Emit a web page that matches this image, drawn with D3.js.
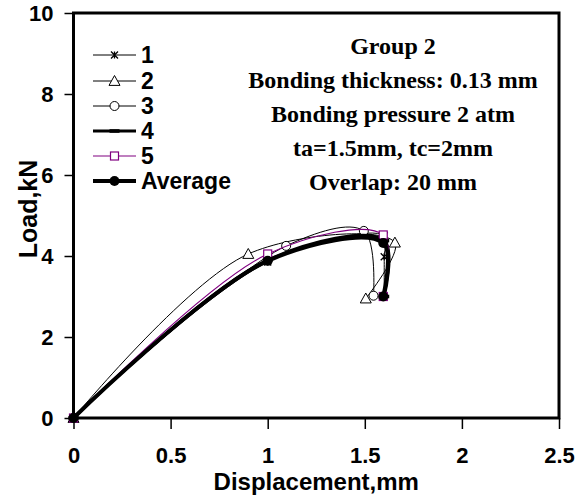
<!DOCTYPE html>
<html>
<head>
<meta charset="utf-8">
<script src="https://cdn.jsdelivr.net/npm/d3@7"></script>
<style>
  body { margin: 0; background: #fff; }
  svg { display: block; }
</style>
</head>
<body>
<svg id="chart" width="584" height="495"></svg>
<script>
// Load–displacement curves, single-lap joints, group 2
const seriesNames = ["1", "2", "3", "4", "5", "Average"];

const disp1 = [0, 1.0, 1.6, 1.6, 1.6];
const load1 = [0, 3.85, 4.5, 3.98, 3.0];

const disp2 = [0, 0.9, 1.655, 1.505];
const load2 = [0, 4.05, 4.33, 2.95];

const disp3 = [0, 1.095, 1.495, 1.545];
const load3 = [0, 4.25, 4.62, 3.02];

const disp4 = [0, 1.0, 1.6, 1.6];
const load4 = [0, 3.9, 4.38, 3.0];

const disp5 = [0, 1.0, 1.595, 1.595];
const load5 = [0, 4.05, 4.52, 3.0];

const dispAvg = [0, 1.0, 1.595, 1.595];
const loadAvg = [0, 3.88, 4.32, 3.0];

const xTicks = [0, 0.5, 1, 1.5, 2, 2.5];
const yTicks = [0, 2, 4, 6, 8, 10];

const notes = [
  "Group 2",
  "Bonding thickness: 0.13 mm",
  "Bonding pressure 2 atm",
  "ta=1.5mm, tc=2mm",
  "Overlap: 20 mm"
];

const svg = d3.select("#chart");
const plotLeft = 73.5, plotRight = 559, plotTop = 13, plotBottom = 418;

const x = d3.scaleLinear().domain([0, 2.5]).range([plotLeft, plotRight]);
const y = d3.scaleLinear().domain([0, 10]).range([plotBottom, plotTop]);

const styles = [
  { stroke: "#000", width: 1, marker: "star" },
  { stroke: "#000", width: 1, marker: "triangle" },
  { stroke: "#000", width: 1, marker: "circle" },
  { stroke: "#000", width: 3, marker: "dash" },
  { stroke: "#800080", width: 1.2, marker: "square" },
  { stroke: "#000", width: 4, marker: "dot" }
];

const series = [
  [disp1, load1], [disp2, load2], [disp3, load3],
  [disp4, load4], [disp5, load5], [dispAvg, loadAvg]
].map(([dx, ly], i) => ({
  name: seriesNames[i],
  points: dx.map((d, j) => ({ x: d, y: ly[j] })),
  style: styles[i]
}));

function drawMarker(g, kind, cx, cy, color) {
  if (kind === "star") {
    const s = 3.5;
    g.append("path")
      .attr("d", `M${cx - s},${cy - s}L${cx + s},${cy + s}M${cx - s},${cy + s}L${cx + s},${cy - s}M${cx},${cy - s}L${cx},${cy + s}`)
      .attr("stroke", color).attr("stroke-width", 1.3).attr("fill", "none");
  } else if (kind === "triangle") {
    const s = 5.5;
    g.append("path")
      .attr("d", `M${cx},${cy - s}L${cx + s},${cy + s * 0.8}L${cx - s},${cy + s * 0.8}Z`)
      .attr("stroke", color).attr("stroke-width", 1).attr("fill", "#fff");
  } else if (kind === "circle") {
    g.append("circle").attr("cx", cx).attr("cy", cy).attr("r", 4.5)
      .attr("stroke", color).attr("stroke-width", 1).attr("fill", "#fff");
  } else if (kind === "dash") {
    g.append("rect").attr("x", cx - 5).attr("y", cy - 1.8).attr("width", 10).attr("height", 3.6)
      .attr("fill", color);
  } else if (kind === "square") {
    g.append("rect").attr("x", cx - 4).attr("y", cy - 4).attr("width", 8).attr("height", 8)
      .attr("stroke", color).attr("stroke-width", 1.2).attr("fill", "#fff");
  } else if (kind === "dot") {
    g.append("circle").attr("cx", cx).attr("cy", cy).attr("r", 5).attr("fill", color);
  }
}

// smoothed lines
const line = d3.line()
  .x(d => x(d.x)).y(d => y(d.y))
  .curve(d3.curveCatmullRom.alpha(0.5));

const plot = svg.append("g");
series.forEach(s => {
  const g = plot.append("g");
  g.append("path").datum(s.points)
    .attr("d", line)
    .attr("fill", "none")
    .attr("stroke", s.style.stroke)
    .attr("stroke-width", s.style.width)
    .attr("stroke-linejoin", "round");
  s.points.forEach(p => drawMarker(g, s.style.marker, x(p.x), y(p.y), s.style.stroke));
});

// axes
const tickFont = "bold 22px 'Liberation Sans', Arial, sans-serif";

const xAxis = svg.append("g").attr("transform", `translate(0,${plotBottom})`)
  .call(d3.axisBottom(x).tickValues(xTicks).tickSize(11).tickPadding(18.5)
    .tickFormat(d => d3.format("")(d)));
xAxis.select(".domain").remove();
xAxis.selectAll(".tick line").attr("stroke", "#000").attr("stroke-width", 1.5);
xAxis.selectAll(".tick text").style("font", tickFont).attr("fill", "#000");

const yAxis = svg.append("g").attr("transform", `translate(${plotLeft},0)`)
  .call(d3.axisLeft(y).tickValues(yTicks).tickSize(9).tickPadding(11));
yAxis.select(".domain").remove();
yAxis.selectAll(".tick line").attr("stroke", "#000").attr("stroke-width", 1.5);
yAxis.selectAll(".tick text").style("font", tickFont).attr("fill", "#000");

// plot frame
svg.append("rect")
  .attr("x", plotLeft).attr("y", plotTop)
  .attr("width", plotRight - plotLeft).attr("height", plotBottom - plotTop)
  .attr("fill", "none").attr("stroke", "#000").attr("stroke-width", 3);

// axis titles
svg.append("text")
  .attr("x", (plotLeft + plotRight) / 2).attr("y", 490)
  .attr("text-anchor", "middle")
  .style("font", "bold 24px 'Liberation Sans', Arial, sans-serif")
  .text("Displacement,mm");

svg.append("text")
  .attr("transform", "translate(37,209) rotate(-90)")
  .attr("text-anchor", "middle")
  .style("font", "bold 25px 'Liberation Sans', Arial, sans-serif")
  .text("Load,kN");

// legend
const legendRows = [55, 81, 106, 131, 156, 181];
const legend = svg.append("g");
series.forEach((s, i) => {
  const ly = legendRows[i];
  legend.append("line")
    .attr("x1", 93).attr("x2", 136).attr("y1", ly).attr("y2", ly)
    .attr("stroke", s.style.stroke).attr("stroke-width", s.style.width);
  drawMarker(legend, s.style.marker, 114.5, ly, s.style.stroke);
  legend.append("text")
    .attr("x", 141).attr("y", ly).attr("dy", "0.36em")
    .style("font", "bold 23px 'Liberation Sans', Arial, sans-serif")
    .text(s.name);
});

// test conditions
const noteRows = [46, 80, 114, 148, 182];
notes.forEach((t, i) => {
  svg.append("text")
    .attr("x", 393).attr("y", noteRows[i]).attr("dy", "0.35em")
    .attr("text-anchor", "middle")
    .style("font", "bold 24px 'Liberation Serif', 'Times New Roman', serif")
    .text(t);
});
</script>
</body>
</html>
